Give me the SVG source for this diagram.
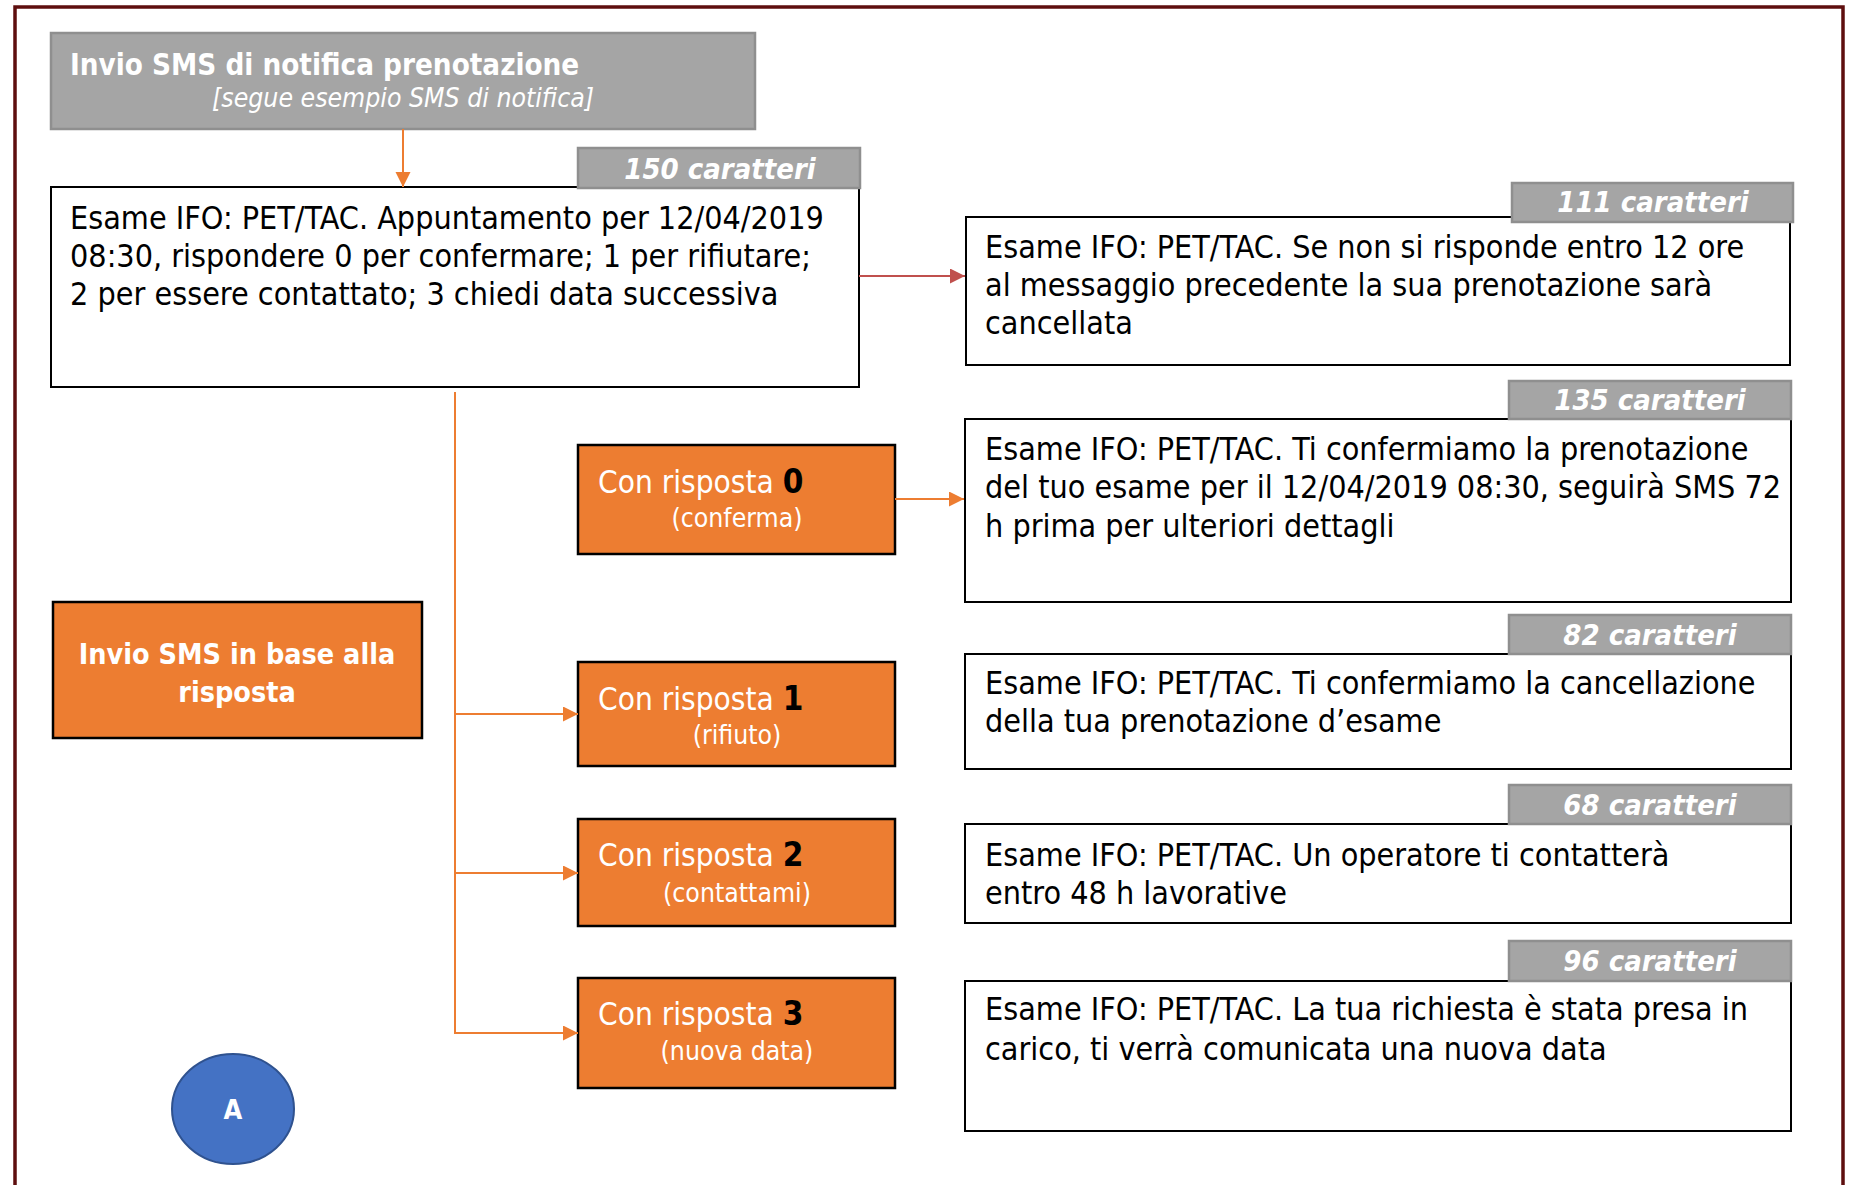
<svg xmlns="http://www.w3.org/2000/svg" width="1853" height="1185" viewBox="0 0 1853 1185">
<style>
text{font-family:"DejaVu Sans Condensed","DejaVu Sans","Liberation Sans",sans-serif;}
.frame{fill:none;stroke:#5E0E0E;stroke-width:3.5;}
.gray{fill:#A5A5A5;stroke:#8F8F8F;stroke-width:2.5;}
.box{fill:#FFFFFF;stroke:#000000;stroke-width:2;}
.obox{fill:#ED7D31;stroke:#000000;stroke-width:2.5;}
.hdr{fill:#FFFFFF;font-size:29.3px;font-weight:bold;}
.hdr2{fill:#FFFFFF;font-size:26.4px;font-style:italic;}
.tab{fill:#FFFFFF;font-size:29px;font-weight:bold;font-style:italic;text-anchor:middle;}
.body{fill:#000000;font-size:32px;}
.opt{fill:#FFFFFF;font-size:31.3px;}
.num{fill:#000000;font-weight:bold;font-size:33px;}
.sub{fill:#FFFFFF;font-size:26.4px;text-anchor:middle;}
.big{fill:#FFFFFF;font-size:28.5px;font-weight:bold;text-anchor:middle;}
.conn{fill:none;stroke:#ED7D31;stroke-width:2;}
.connr{fill:none;stroke:#C0504D;stroke-width:2;}
</style>
<defs>
<marker id="ao" markerUnits="userSpaceOnUse" markerWidth="16" markerHeight="16" refX="15" refY="7.5" orient="auto">
<path d="M0,0 L15,7.5 L0,15 Z" fill="#ED7D31"/>
</marker>
<marker id="ar" markerUnits="userSpaceOnUse" markerWidth="16" markerHeight="16" refX="15" refY="7.5" orient="auto">
<path d="M0,0 L15,7.5 L0,15 Z" fill="#C0504D"/>
</marker>
</defs>
<rect width="1853" height="1185" fill="#FFFFFF"/>
<path class="frame" d="M15,1190 L15,7 L1843,7 L1843,1190"/>

<g id="header">
<rect class="gray" x="51" y="33" width="704" height="96"/>
<text class="hdr" x="70" y="75">Invio SMS di notifica prenotazione</text>
<text class="hdr2" x="212" y="107">[segue esempio SMS di notifica]</text>
</g>

<g id="sms-notifica">
<rect class="box" x="51" y="187" width="808" height="200"/>
<rect class="gray" x="578" y="148" width="282" height="40"/>
<text class="tab" x="720" y="179">150 caratteri</text>
<text class="body" x="70" y="229">Esame IFO: PET/TAC. Appuntamento per 12/04/2019</text>
<text class="body" x="70" y="267">08:30, rispondere 0 per confermare; 1 per rifiutare;</text>
<text class="body" x="70" y="305">2 per essere contattato; 3 chiedi data successiva</text>
</g>

<g id="sms-111">
<rect class="box" x="966" y="217" width="824" height="148"/>
<rect class="gray" x="1512" y="183" width="281" height="39"/>
<text class="tab" x="1653" y="212">111 caratteri</text>
<text class="body" x="985" y="258">Esame IFO: PET/TAC. Se non si risponde entro 12 ore</text>
<text class="body" x="985" y="296">al messaggio precedente la sua prenotazione sarà</text>
<text class="body" x="985" y="334">cancellata</text>
</g>

<g id="sms-135">
<rect class="box" x="965" y="419" width="826" height="183"/>
<rect class="gray" x="1509" y="381" width="282" height="38"/>
<text class="tab" x="1650" y="410">135 caratteri</text>
<text class="body" x="985" y="460">Esame IFO: PET/TAC. Ti confermiamo la prenotazione</text>
<text class="body" x="985" y="498">del tuo esame per il 12/04/2019 08:30, seguirà SMS 72</text>
<text class="body" x="985" y="537">h prima per ulteriori dettagli</text>
</g>

<g id="sms-82">
<rect class="box" x="965" y="654" width="826" height="115"/>
<rect class="gray" x="1509" y="615" width="282" height="39"/>
<text class="tab" x="1650" y="645">82 caratteri</text>
<text class="body" x="985" y="694">Esame IFO: PET/TAC. Ti confermiamo la cancellazione</text>
<text class="body" x="985" y="732">della tua prenotazione d’esame</text>
</g>

<g id="sms-68">
<rect class="box" x="965" y="824" width="826" height="99"/>
<rect class="gray" x="1509" y="785" width="282" height="39"/>
<text class="tab" x="1650" y="815">68 caratteri</text>
<text class="body" x="985" y="866">Esame IFO: PET/TAC. Un operatore ti contatterà</text>
<text class="body" x="985" y="904">entro 48 h lavorative</text>
</g>

<g id="sms-96">
<rect class="box" x="965" y="981" width="826" height="150"/>
<rect class="gray" x="1509" y="941" width="282" height="40"/>
<text class="tab" x="1650" y="971">96 caratteri</text>
<text class="body" x="985" y="1020">Esame IFO: PET/TAC. La tua richiesta è stata presa in</text>
<text class="body" x="985" y="1060">carico, ti verrà comunicata una nuova data</text>
</g>

<g id="invio-risposta">
<rect class="obox" x="53" y="602" width="369" height="136"/>
<text class="big" x="237" y="664">Invio SMS in base alla</text>
<text class="big" x="237" y="702">risposta</text>
</g>

<g id="risposta-0">
<rect class="obox" x="578" y="445" width="317" height="109"/>
<text class="opt" x="598" y="493">Con risposta <tspan class="num">0</tspan></text>
<text class="sub" x="737" y="527">(conferma)</text>
</g>

<g id="risposta-1">
<rect class="obox" x="578" y="662" width="317" height="104"/>
<text class="opt" x="598" y="710">Con risposta <tspan class="num">1</tspan></text>
<text class="sub" x="737" y="744">(rifiuto)</text>
</g>

<g id="risposta-2">
<rect class="obox" x="578" y="819" width="317" height="107"/>
<text class="opt" x="598" y="866">Con risposta <tspan class="num">2</tspan></text>
<text class="sub" x="737" y="902">(contattami)</text>
</g>

<g id="risposta-3">
<rect class="obox" x="578" y="978" width="317" height="110"/>
<text class="opt" x="598" y="1025">Con risposta <tspan class="num">3</tspan></text>
<text class="sub" x="737" y="1060">(nuova data)</text>
</g>

<g id="connettore-A">
<ellipse cx="233" cy="1109" rx="61" ry="55" fill="#4472C4" stroke="#2F528F" stroke-width="2"/>
<text x="233" y="1119" fill="#FFFFFF" font-size="27" font-weight="bold" text-anchor="middle">A</text>
</g>

<g id="connectors">
<path class="conn" d="M403,129 L403,187" marker-end="url(#ao)"/>
<path class="connr" d="M859,276 L965,276" marker-end="url(#ar)"/>
<path class="conn" d="M895,499 L964,499" marker-end="url(#ao)"/>
<path class="conn" d="M455,392 L455,1034"/>
<path class="conn" d="M455,714 L578,714" marker-end="url(#ao)"/>
<path class="conn" d="M455,873 L578,873" marker-end="url(#ao)"/>
<path class="conn" d="M455,1033 L578,1033" marker-end="url(#ao)"/>
</g>
</svg>
